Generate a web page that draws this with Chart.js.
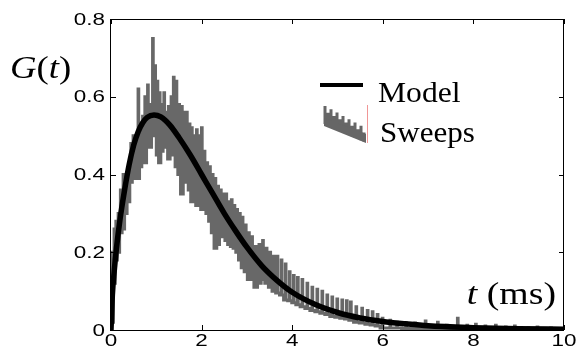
<!DOCTYPE html>
<html>
<head>
<meta charset="utf-8">
<script src="https://cdn.jsdelivr.net/npm/chart.js@4/dist/chart.umd.min.js"></script>
<style>
html,body{margin:0;padding:0;background:#fff;}
canvas{display:block;}
</style>
</head>
<body>
<canvas id="c" width="576" height="351"></canvas>
<script>
// ---- data ----
const modelT = [0, 0.03, 0.07, 0.12, 0.2, 0.3, 0.4, 0.5, 0.6, 0.7, 0.8, 0.95, 1.1, 1.3, 1.5, 1.75, 2.0, 2.25, 2.5, 2.75, 3.0, 3.33, 3.67, 4.0, 4.5, 5.0, 5.5, 6.0, 6.5, 7.0, 8.0, 9.0, 10.0];
const modelG = [0, 0.09, 0.15, 0.21, 0.285, 0.36, 0.425, 0.475, 0.51, 0.533, 0.547, 0.553, 0.548, 0.527, 0.495, 0.45, 0.40, 0.35, 0.30, 0.255, 0.213, 0.165, 0.127, 0.097, 0.066, 0.045, 0.031, 0.022, 0.016, 0.011, 0.006, 0.003, 0.002];

// noisy sweeps: for each stroke column, time, upper and lower value
const sweepColT = [0.02, 0.06, 0.10, 0.15, 0.20, 0.26, 0.31, 0.37, 0.43, 0.48, 0.53, 0.59, 0.64, 0.69, 0.74, 0.80, 0.85, 0.91, 0.96, 1.01, 1.06, 1.11, 1.16, 1.21, 1.26, 1.32, 1.37, 1.43, 1.49, 1.55, 1.61, 1.66, 1.72, 1.77, 1.83, 1.88, 1.94, 1.99, 2.05, 2.11, 2.17, 2.23, 2.29, 2.35, 2.41, 2.47, 2.53, 2.59, 2.65, 2.71, 2.77, 2.83, 2.89, 2.96, 3.03, 3.10, 3.18, 3.26, 3.34, 3.42, 3.50, 3.58, 3.66, 3.75, 3.84, 3.93, 4.02, 4.11, 4.21, 4.32, 4.43, 4.54, 4.65, 4.76, 4.87, 4.98, 5.09, 5.19, 5.28, 5.40, 5.53, 5.65, 5.76, 5.87, 5.98, 6.15, 6.30, 6.50, 6.70, 6.93, 7.20, 7.40, 7.64, 7.85, 8.04, 8.25, 8.48, 8.70, 8.90, 9.20, 9.40, 9.70, 9.98];
const sweepHi = [0.20, 0.26, 0.28, 0.30, 0.36, 0.40, 0.38, 0.41, 0.48, 0.50, 0.49, 0.62, 0.52, 0.55, 0.60, 0.63, 0.58, 0.75, 0.68, 0.64, 0.61, 0.58, 0.61, 0.56, 0.575, 0.60, 0.65, 0.64, 0.58, 0.575, 0.56, 0.56, 0.53, 0.52, 0.50, 0.515, 0.50, 0.52, 0.46, 0.43, 0.42, 0.40, 0.39, 0.37, 0.36, 0.35, 0.35, 0.33, 0.335, 0.32, 0.31, 0.30, 0.29, 0.27, 0.25, 0.24, 0.215, 0.22, 0.23, 0.21, 0.20, 0.19, 0.19, 0.18, 0.17, 0.15, 0.14, 0.135, 0.13, 0.12, 0.11, 0.105, 0.10, 0.09, 0.085, 0.08, 0.077, 0.075, 0.072, 0.06, 0.056, 0.05, 0.047, 0.04, 0.03, 0.025, 0.02, 0.018, 0.018, 0.023, 0.02, 0.012, 0.03, 0.012, 0.015, 0.01, 0.012, 0.008, 0.01, 0.006, 0.008, 0.005, 0.003];
const sweepLo = [0.02, 0.12, 0.18, 0.20, 0.25, 0.26, 0.30, 0.33, 0.38, 0.39, 0.40, 0.39, 0.42, 0.46, 0.43, 0.49, 0.47, 0.52, 0.50, 0.45, 0.43, 0.46, 0.49, 0.47, 0.44, 0.45, 0.47, 0.42, 0.40, 0.35, 0.38, 0.39, 0.36, 0.33, 0.34, 0.32, 0.33, 0.31, 0.31, 0.30, 0.28, 0.25, 0.21, 0.22, 0.25, 0.24, 0.23, 0.22, 0.215, 0.21, 0.20, 0.18, 0.16, 0.15, 0.13, 0.13, 0.11, 0.12, 0.13, 0.12, 0.11, 0.10, 0.095, 0.09, 0.077, 0.075, 0.07, 0.065, 0.06, 0.055, 0.05, 0.047, 0.043, 0.04, 0.035, 0.033, 0.03, 0.028, 0.025, 0.02, 0.018, 0.015, 0.013, 0.01, 0.005, 0.005, 0.005, 0.004, 0.004, 0.004, 0.003, 0.003, 0.003, 0.002, 0.002, 0.002, 0.002, 0.001, 0.001, 0.001, 0.001, 0.001, 0.001];

const xTicks = [0, 2, 4, 6, 8, 10];
const xTickLabels = ['0', '2', '4', '6', '8', '10'];
const yTicks = [0, 0.2, 0.4, 0.6, 0.8];
const yTickLabels = ['0', '0.2', '0.4', '0.6', '0.8'];
const seriesNames = ['Model', 'Sweeps'];
const yTitle = ['G', '(', 't', ')'];
const xTitle = 't (ms)';

const modelPts = modelT.map((t, i) => ({x: t, y: modelG[i]}));
const sweepPts = [{x: 0, y: 0}];
sweepColT.forEach((t, i) => {
  sweepPts.push({x: t, y: sweepLo[i]});
  sweepPts.push({x: t + 0.015, y: sweepHi[i]});
  sweepPts.push({x: t + 0.03, y: sweepLo[i]});
});

function stretchedText(ctx, txt, x, y, sx, align) {
  ctx.save();
  ctx.translate(x, y);
  ctx.scale(sx, 1);
  ctx.textAlign = align;
  ctx.fillText(txt, 0, 0);
  ctx.restore();
}

const decor = {
  id: 'decor',
  afterDraw(chart) {
    const ctx = chart.ctx;
    const a = chart.chartArea;
    const xs = chart.scales.x, ys = chart.scales.y;
    ctx.save();
    // frame
    ctx.strokeStyle = '#000';
    ctx.lineWidth = 1;
    ctx.strokeRect(a.left - 0.5, a.top + 0.5, a.right - a.left, a.bottom - a.top);
    // ticks (inward, all four sides)
    ctx.beginPath();
    xTicks.forEach(v => {
      const px = Math.round(xs.getPixelForValue(v)) + 0.5;
      ctx.moveTo(px, a.bottom); ctx.lineTo(px, a.bottom - 5);
      ctx.moveTo(px, a.top); ctx.lineTo(px, a.top + 5);
    });
    yTicks.forEach(v => {
      const py = Math.round(ys.getPixelForValue(v)) + 0.5;
      ctx.moveTo(a.left, py); ctx.lineTo(a.left + 5, py);
      ctx.moveTo(a.right, py); ctx.lineTo(a.right - 5, py);
    });
    ctx.stroke();
    // tick labels
    ctx.fillStyle = '#000';
    ctx.font = '17px "Liberation Sans", Arial, sans-serif';
    ctx.textBaseline = 'middle';
    yTicks.forEach((v, i) => {
      stretchedText(ctx, yTickLabels[i], 105, ys.getPixelForValue(v) + 1, 1.32, 'right');
    });
    ctx.textBaseline = 'top';
    xTicks.forEach((v, i) => {
      stretchedText(ctx, xTickLabels[i], xs.getPixelForValue(v), 333, 1.32, 'center');
    });
    // y title G(t)
    ctx.textBaseline = 'alphabetic';
    ctx.save();
    ctx.translate(10, 78);
    ctx.scale(1.15, 1);
    let cx = 0;
    yTitle.forEach((s, i) => {
      ctx.font = (i % 2 === 0 ? 'italic ' : '') + '32px "Liberation Serif", "Times New Roman", serif';
      ctx.textAlign = 'left';
      ctx.fillText(s, cx, 0);
      cx += ctx.measureText(s).width;
    });
    ctx.restore();
    // x title t (ms)
    ctx.save();
    ctx.translate(556, 304);
    ctx.scale(1.18, 1);
    ctx.textAlign = 'right';
    ctx.font = '32px "Liberation Serif", "Times New Roman", serif';
    const rest = ' (ms)';
    ctx.fillText(rest, 0, 0);
    const w = ctx.measureText(rest).width;
    ctx.font = 'italic 32px "Liberation Serif", "Times New Roman", serif';
    ctx.fillText(xTitle.charAt(0), -w, 0);
    ctx.restore();
    // legend: model line
    ctx.strokeStyle = '#000';
    ctx.lineWidth = 4;
    ctx.beginPath();
    ctx.moveTo(320, 85); ctx.lineTo(363, 85);
    ctx.stroke();
    // legend: sweeps glyph (dense vertical strokes descending)
    ctx.strokeStyle = '#666';
    ctx.lineWidth = 3;
    ctx.beginPath();
    for (let gx = 325, k = 0; gx <= 365; gx += 3, k++) {
      const top = 106 + (gx - 325) * 0.55 + (k % 2 ? 5 : 0);
      const bot = 124 + (gx - 325) * 0.45;
      ctx.moveTo(gx, bot); ctx.lineTo(gx, top);
    }
    ctx.stroke();
    ctx.fillStyle = '#666';
    ctx.beginPath();
    ctx.moveTo(324, 118); ctx.lineTo(366, 134); ctx.lineTo(366, 143); ctx.lineTo(324, 126);
    ctx.fill();
    ctx.strokeStyle = 'rgba(230,80,80,0.6)';
    ctx.lineWidth = 1;
    ctx.beginPath();
    ctx.moveTo(367.5, 105); ctx.lineTo(367.5, 143);
    ctx.stroke();
    ctx.fillStyle = '#000';
    ctx.font = '29px "Liberation Serif", "Times New Roman", serif';
    ctx.textBaseline = 'alphabetic';
    stretchedText(ctx, seriesNames[0], 378, 102, 1.09, 'left');
    stretchedText(ctx, seriesNames[1], 380, 142, 1.07, 'left');
    ctx.restore();
  }
};

new Chart(document.getElementById('c'), {
  type: 'scatter',
  data: {
    datasets: [
      {label: seriesNames[0], data: modelPts, showLine: true, borderColor: '#000', borderWidth: 5.5,
       pointRadius: 0, tension: 0.4, cubicInterpolationMode: 'monotone', order: 0},
      {label: seriesNames[1], data: sweepPts, showLine: true, borderColor: '#686868', borderWidth: 3,
       pointRadius: 0, stepped: 'middle', order: 1}
    ]
  },
  options: {
    responsive: false,
    animation: false,
    devicePixelRatio: 1,
    layout: {padding: {left: 0, right: 12, top: 19, bottom: 0}},
    plugins: {legend: {display: false}, tooltip: {enabled: false}},
    scales: {
      x: {type: 'linear', min: 0, max: 10, ticks: {display: false, stepSize: 2},
          grid: {display: false}, border: {display: false},
          afterFit(s) { s.height = 21; }},
      y: {type: 'linear', min: 0, max: 0.8, ticks: {display: false, stepSize: 0.2},
          grid: {display: false}, border: {display: false},
          afterFit(s) { s.width = 111; }}
    }
  },
  plugins: [decor]
});
</script>
</body>
</html>
